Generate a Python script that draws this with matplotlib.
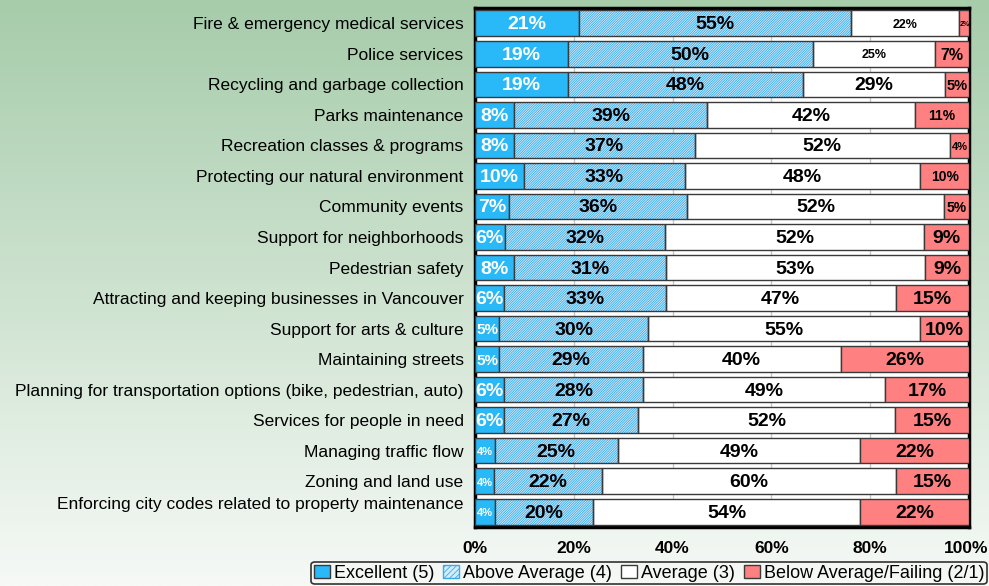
import numpy as np
import matplotlib
matplotlib.use("Agg")
import matplotlib.pyplot as plt
from matplotlib.patches import Patch
from matplotlib.transforms import ScaledTranslation

plt.rcParams['font.family'] = ['Liberation Sans', 'DejaVu Sans']
plt.rcParams['hatch.linewidth'] = 0.6

categories = [
    "Fire & emergency medical services",
    "Police services",
    "Recycling and garbage collection",
    "Parks maintenance",
    "Recreation classes & programs",
    "Protecting our natural environment",
    "Community events",
    "Support for neighborhoods",
    "Pedestrian safety",
    "Attracting and keeping businesses in Vancouver",
    "Support for arts & culture",
    "Maintaining streets",
    "Planning for transportation options (bike, pedestrian, auto)",
    "Services for people in need",
    "Managing traffic flow",
    "Zoning and land use",
    "Enforcing city codes related to property maintenance",
]

excellent = [21, 19, 19, 8, 8, 10, 7, 6, 8, 6, 5, 5, 6, 6, 4, 4, 4]
above_avg = [55, 50, 48, 39, 37, 33, 36, 32, 31, 33, 30, 29, 28, 27, 25, 22, 20]
average = [22, 25, 29, 42, 52, 48, 52, 52, 53, 47, 55, 40, 49, 52, 49, 60, 54]
below_avg = [2, 7, 5, 11, 4, 10, 5, 9, 9, 15, 10, 26, 17, 15, 22, 15, 22]

series_names = ["Excellent (5)", "Above Average (4)", "Average (3)",
                "Below Average/Failing (2/1)"]
tick_vals = [0, 20, 40, 60, 80, 100]

# smaller label sizes for a few segments (row, series) -> pt
small_labels = {
    (0, 2): 9, (0, 3): 5,
    (1, 2): 9, (1, 3): 11.5,
    (2, 3): 10.5,
    (3, 3): 10,
    (4, 3): 8,
    (5, 3): 10,
    (6, 3): 10,
    (10, 0): 11, (11, 0): 11,
    (14, 0): 8, (15, 0): 8, (16, 0): 8,
}

col_excellent = "#29B8F8"
col_hatch_bg = "#D2EEFC"
col_hatch = "#3AAAEA"
col_below = "#FF8080"
edge = "#3a3a3a"
hatch = '/' * 14

data = np.array([excellent, above_avg, average, below_avg], dtype=float)
pct = data / data.sum(axis=0) * 100

fig = plt.figure(figsize=(9.89, 5.86), dpi=100)

# green gradient background
bg = fig.add_axes([0, 0, 1, 1], zorder=-10)
top = np.array([166, 204, 170]) / 255
bot = np.array([246, 249, 246]) / 255
t = np.linspace(0, 1, 256)[:, None]
grad = top * (1 - t) + bot * t
bg.imshow(np.repeat(grad[:, None, :], 2, axis=1), aspect='auto',
          extent=[0, 1, 0, 1], origin='upper')
bg.axis('off')

ax = fig.add_axes([0.480, 0.1007, 0.500, 0.8856])
ax.set_facecolor("white")
y = np.arange(len(categories))
h = 0.84

left = np.zeros(len(categories))
for k in range(4):
    w = pct[k]
    if k == 0:
        ax.barh(y, w, left=left, height=h, color=col_excellent,
                edgecolor=edge, linewidth=1, zorder=3)
    elif k == 1:
        ax.barh(y, w, left=left, height=h, color=col_hatch_bg,
                edgecolor=col_hatch, linewidth=0, hatch=hatch, zorder=3)
        ax.barh(y, w, left=left, height=h, color='none',
                edgecolor=edge, linewidth=1, zorder=4)
    elif k == 2:
        ax.barh(y, w, left=left, height=h, color="white",
                edgecolor=edge, linewidth=1, zorder=3)
    else:
        ax.barh(y, w, left=left, height=h, color=col_below,
                edgecolor=edge, linewidth=1, zorder=3)
    for i in range(len(categories)):
        fs = small_labels.get((i, k), 14)
        ax.text(left[i] + w[i] / 2, y[i] + 0.05, f"{int(data[k, i])}%",
                ha='center', va='center', fontsize=fs, fontweight='bold',
                color='white' if k == 0 else 'black', zorder=6)
    left += w

ax.set_xlim(0, 100)
ax.set_ylim(len(categories) - 0.5, -0.5)
ax.set_xticks(tick_vals)
ax.set_xticklabels([f"{v}%" for v in tick_vals], fontsize=12.5, fontweight='bold')
ax.set_yticks(y)
ax.set_yticklabels(categories, fontsize=12.5)
ax.tick_params(axis='both', length=0)
ax.tick_params(axis='x', pad=10)
ax.tick_params(axis='y', pad=8)
ax.grid(axis='x', color='#c8c8c8', linewidth=1, zorder=0)
for s in ax.spines.values():
    s.set_linewidth(2.5)
    s.set_color('black')

# last y label sits a bit higher in the original
lab = ax.get_yticklabels()[-1]
lab.set_transform(lab.get_transform() + ScaledTranslation(0, 0.09, fig.dpi_scale_trans))
# keep "100%" inside the image
xl = ax.get_xticklabels()[-1]
xl.set_transform(xl.get_transform() + ScaledTranslation(-0.03, 0, fig.dpi_scale_trans))

handles = [
    Patch(facecolor=col_excellent, edgecolor=edge),
    Patch(facecolor=col_hatch_bg, edgecolor=col_hatch, hatch='//////'),
    Patch(facecolor='white', edgecolor=edge),
    Patch(facecolor=col_below, edgecolor=edge),
]
leg = fig.legend(handles, series_names, loc='center', ncol=4,
                 bbox_to_anchor=(649 / 989, 1 - 573 / 586), fontsize=13,
                 handlelength=0.9, handleheight=0.7, handletextpad=0.2,
                 columnspacing=0.5, borderpad=0.15, borderaxespad=0,
                 fancybox=True, edgecolor='black', facecolor='none')
leg.get_frame().set_linewidth(1.2)

fig.savefig("out.png", dpi=100)
